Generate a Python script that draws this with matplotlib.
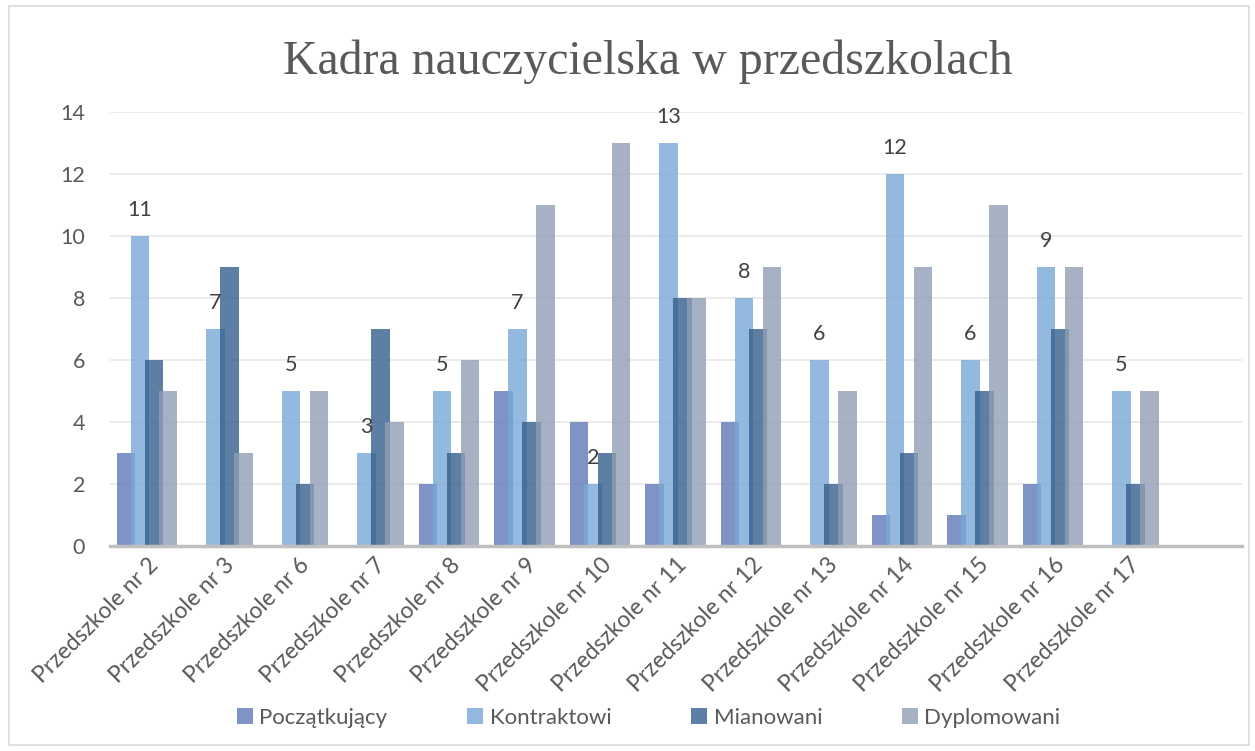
import matplotlib
matplotlib.use("Agg")
import matplotlib.pyplot as plt
import numpy as np
from matplotlib.patches import Rectangle

# Kadra nauczycielska: counts per preschool and teacher grade
categories = ["Przedszkole nr 2", "Przedszkole nr 3", "Przedszkole nr 6", "Przedszkole nr 7",
              "Przedszkole nr 8", "Przedszkole nr 9", "Przedszkole nr 10", "Przedszkole nr 11",
              "Przedszkole nr 12", "Przedszkole nr 13", "Przedszkole nr 14", "Przedszkole nr 15",
              "Przedszkole nr 16", "Przedszkole nr 17", ""]
poczatkujacy = [3, 0, 0, 0, 2, 5, 4, 2, 4, 0, 1, 1, 2, 0, 0]
kontraktowi = [10, 7, 5, 3, 5, 7, 2, 13, 8, 6, 12, 6, 9, 5, 0]
mianowani = [6, 9, 2, 7, 3, 4, 3, 8, 7, 2, 3, 5, 7, 2, 0]
dyplomowani = [5, 3, 5, 4, 6, 11, 13, 8, 9, 5, 9, 11, 9, 5, 0]
# data labels shown above the Kontraktowi bars
kontraktowi_labels = ["11", "7", "5", "3", "5", "7", "2", "13", "8", "6", "12", "6", "9", "5", ""]

series = [
    ("Początkujący", poczatkujacy, "#6078b7"),
    ("Kontraktowi", kontraktowi, "#78a8d7"),
    ("Mianowani", mianowani, "#345f8c"),
    ("Dyplomowani", dyplomowani, "#909eb4"),
]

txt_font = ["Lato", "DejaVu Sans"]
grey = "#595959"

fig = plt.figure(figsize=(12.55, 7.51), dpi=100)
ax = fig.add_axes([0.0877, 0.273, 0.9023, 0.578])

x = np.arange(len(categories))
step, width = 0.185, 0.245
for i, (name, vals, col) in enumerate(series):
    ax.bar(x + (i - 1.5) * step - 0.01, vals, width=width, color=col, alpha=0.8,
           label=name, zorder=2, linewidth=0)

for xi, v, lab in zip(x, kontraktowi, kontraktowi_labels):
    if lab:
        ax.annotate(lab, (xi - 0.5 * step - 0.01, v), xytext=(0, 18.5), textcoords="offset points",
                    ha="center", va="center", fontsize=15.5, color="#404040", family=txt_font)

ax.set_xlim(-0.5, len(categories) - 0.5)
ax.set_ylim(0, 14)
ax.set_yticks(range(0, 15, 2))
ax.yaxis.grid(True, color="#e8e8e8", linewidth=1.2, zorder=0)
ax.set_axisbelow(True)
for s in ["top", "right", "left"]:
    ax.spines[s].set_visible(False)
ax.spines["bottom"].set_color("#bfbfbf")
ax.spines["bottom"].set_linewidth(2.5)
ax.tick_params(axis="both", length=0, labelsize=15.5, colors=grey)
ax.tick_params(axis="x", labelsize=16.5, pad=6)
ax.tick_params(axis="y", pad=18)
ax.set_xticks(x)
ax.set_xticklabels(categories, rotation=45, ha="right", rotation_mode="anchor", family=txt_font)
for t in ax.get_yticklabels():
    t.set_family(txt_font)

fig.suptitle("Kadra nauczycielska w przedszkolach", x=0.516, y=0.948, fontsize=34.5,
             color=grey, family=["Liberation Serif", "DejaVu Serif"])

fig.legend(loc="center", bbox_to_anchor=(0.517, 0.044), ncol=4, frameon=False,
           prop={"family": txt_font, "size": 16}, labelcolor=grey,
           handlelength=0.7, handleheight=0.7, handletextpad=0.3, columnspacing=3.6)

fig.patches.append(Rectangle((0.007, 0.008), 0.988, 0.984, transform=fig.transFigure,
                             fill=False, edgecolor="#d9d9d9", linewidth=1.2))

fig.savefig("out.png", dpi=100)
